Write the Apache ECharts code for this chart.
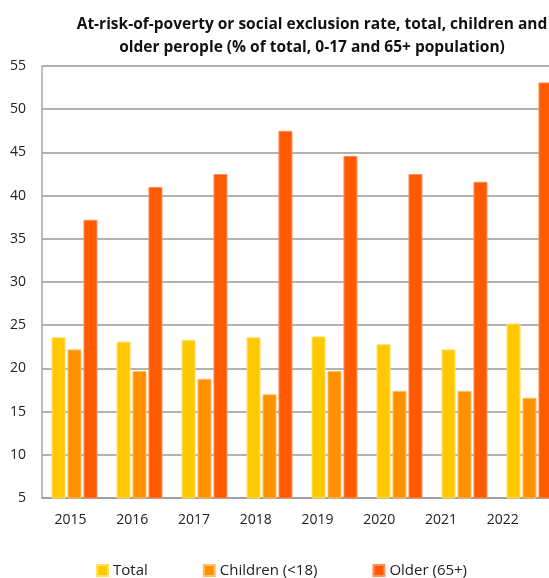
<!DOCTYPE html>
<html>
<head>
<meta charset="utf-8">
<script src="https://cdn.jsdelivr.net/npm/echarts@6/dist/echarts.min.js"></script>
<style>
  html, body { margin: 0; padding: 0; background: #fff; }
  #chart { width: 549px; height: 578px; }
</style>
</head>
<body>
<div id="chart"></div>
<script>
// values
const years = ['2015', '2016', '2017', '2018', '2019', '2020', '2021', '2022']
const total = [23.6, 23.1, 23.3, 23.6, 23.7, 22.8, 22.2, 25.2]
const children = [22.2, 19.7, 18.8, 17.0, 19.7, 17.4, 17.4, 16.6]
const older = [37.2, 41.0, 42.5, 47.5, 44.6, 42.5, 41.6, 53.1]

const font = '"Open Sans", "Liberation Sans", sans-serif'

const myChart = echarts.init(document.getElementById('chart'))

function bar(name, data, color, border) {
  return {
    name: name,
    type: 'bar',
    data: data,
    barWidth: 14,
    barGap: '14%',
    itemStyle: { color: color, borderColor: border, borderWidth: 1 }
  }
}

let option = {
  animation: false,
  textStyle: { fontFamily: font },
  title: {
    text: 'At-risk-of-poverty or social exclusion rate, total, children and\nolder perople (% of total, 0-17 and 65+ population)',
    left: 307,
    top: 8,
    textAlign: 'center',
    textStyle: {
      fontFamily: font,
      fontSize: 15.5,
      fontWeight: 'bold',
      color: '#111',
      lineHeight: 23
    }
  },
  legend: {
    top: 563,
    left: 96,
    padding: 0,
    itemWidth: 11,
    itemHeight: 11,
    itemGap: 55,
    icon: 'rect',
    textStyle: { fontFamily: font, fontSize: 15, color: '#222' }
  },
  grid: [
    { left: 42, top: 66, width: 520, height: 432, outerBoundsMode: 'none' },
    // year labels in the source sit a little tighter than the bar groups
    { left: 39.6, top: 66, width: 494, height: 432, outerBoundsMode: 'none' }
  ],
  xAxis: [
    {
      type: 'category',
      data: years,
      axisLine: { lineStyle: { color: '#999', width: 1.5 } },
      axisTick: { show: false },
      axisLabel: { show: false }
    },
    {
      type: 'category',
      gridIndex: 1,
      data: years,
      axisLine: { show: false },
      axisTick: { show: false },
      axisLabel: { fontFamily: font, fontSize: 14, color: '#222', margin: 15 }
    }
  ],
  yAxis: [
    {
      type: 'value',
      min: 5,
      max: 55,
      interval: 5,
      axisLine: { show: true, lineStyle: { color: '#aaa', width: 1.5 } },
      axisTick: { show: false },
      axisLabel: { fontFamily: font, fontSize: 14, color: '#222', margin: 16 },
      splitLine: { lineStyle: { color: '#999', width: 1.5 } }
    },
    { type: 'value', gridIndex: 1, show: false }
  ],
  series: [
    bar('Total', total, '#FFC800', '#FFE066'),
    bar('Children (<18)', children, '#FF9100', '#FFC060'),
    bar('Older (65+)', older, '#FF5A00', '#FF9060')
  ]
}

myChart.setOption(option)
</script>
</body>
</html>
